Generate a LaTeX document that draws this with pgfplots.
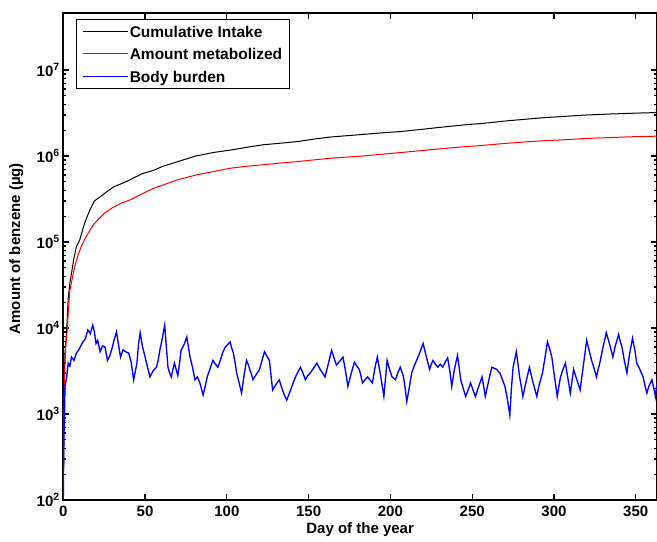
\documentclass[border=0pt]{standalone}
\usepackage{fontspec}
\setmainfont{Liberation Sans}
\usepackage{pgfplots}
\pgfplotsset{compat=1.18}

\begin{document}
\begin{tikzpicture}
\begin{semilogyaxis}[name=ax, scale only axis, width=593.7pt, height=487pt,
  xmin=0, xmax=363, ymin=100, ymax=4.6e7,
  xtick={0,50,100,150,200,250,300,350},
  xticklabels={0,50,100,150,200,250,300,350},
  ytick={1e2,1e3,1e4,1e5,1e6,1e7},
  yticklabels={10\textsuperscript{2},10\textsuperscript{3},10\textsuperscript{4},10\textsuperscript{5},10\textsuperscript{6},10\textsuperscript{7}},
  tick align=inside, major tick length=6pt, minor tick length=3pt,
  every tick/.style={black, line width=1.2pt},
  axis line style={line width=1.6pt},
  ticklabel style={font=\fontsize{15}{18}\selectfont\bfseries},
  xticklabel style={yshift=-2pt},
  label style={font=\fontsize{15}{18}\selectfont\bfseries},
  xlabel={Day of the year},
  ylabel={Amount of benzene (µg)},
  xlabel style={at={(axis description cs:0.5,-0.0616)}, anchor=center},
  ylabel style={at={(axis description cs:-0.079,0.516)}, anchor=center},
  legend style={at={(axis description cs:0.0219,0.9877)}, anchor=north west,
    draw=black, line width=1pt, fill=white, inner xsep=6pt, inner ysep=3pt,
    row sep=4.5pt,
    nodes={inner sep=1pt, text height=14pt, text depth=2pt,
      font=\fontsize{15.5}{18}\selectfont\bfseries}},
  legend cell align=left,
  legend image code/.code={\draw[#1, line width=1pt] (0pt,0pt) -- (45pt,0pt);},
]
\addplot[black, line width=1pt] coordinates {
(0,100)(0.4,1500)(1,5000)(2,9000)(3,2.2e4)(4,3.3e4)(5,4.3e4)(6.5,6.5e4)(8,8.8e4)
(10,1.05e5)(13,1.65e5)(16,2.3e5)(19,3.0e5)(23,3.4e5)(27,3.9e5)(31,4.4e5)(36,4.8e5)
(40,5.2e5)(48,6.2e5)(55,6.8e5)(61,7.6e5)(70,8.6e5)(81,1.0e6)(92,1.1e6)(102,1.17e6)
(112,1.26e6)(122,1.35e6)(133,1.41e6)(143,1.47e6)(153,1.57e6)(163,1.66e6)(173,1.72e6)
(183,1.78e6)(195,1.86e6)(207,1.93e6)(220,2.05e6)(232,2.17e6)(245,2.3e6)(257,2.4e6)
(270,2.55e6)(283,2.68e6)(295,2.8e6)(308,2.9e6)(320,3.0e6)(335,3.08e6)(350,3.15e6)(363,3.2e6)
};
\addlegendentry{Cumulative Intake}
\addplot[red, line width=1pt] coordinates {
(0,100)(0.3,800)(0.8,3000)(1.5,6000)(2.5,1e4)(3,1.5e4)(4,2.7e4)(5.5,3.8e4)(7,5.2e4)
(9,7e4)(11,8.9e4)(13,1.07e5)(15,1.25e5)(18,1.55e5)(21,1.8e5)(25,2.15e5)(30,2.5e5)
(35,2.8e5)(41,3.1e5)(49,3.7e5)(55,4.2e5)(61,4.6e5)(70,5.3e5)(81,6e5)(92,6.6e5)
(102,7.2e5)(112,7.6e5)(122,7.9e5)(133,8.3e5)(143,8.6e5)(153,9e5)(163,9.4e5)(173,9.7e5)
(183,1.0e6)(195,1.05e6)(207,1.1e6)(220,1.16e6)(232,1.22e6)(245,1.28e6)(257,1.33e6)
(270,1.40e6)(283,1.46e6)(295,1.51e6)(308,1.55e6)(320,1.6e6)(335,1.64e6)(350,1.68e6)(363,1.7e6)
};
\addlegendentry{Amount metabolized}
\addplot[blue, line width=1.35pt] coordinates {
(0,100)(0.2,300)(0.5,700)(0.8,1000)(1,2100)(2,2600)(3,3900)(4,3600)(5,4600)(6.5,4200)
(8,5100)(10,5800)(12,6900)(13.5,7500)(15,9500)(16.5,8600)(18,10800)(19,9000)(20,6600)
(21,7200)(22.5,5300)(24,6200)(25.5,6000)(27,4200)(28.5,4800)(30,6000)(31,7200)
(32.5,9000)(34,6000)(35,4600)(36.5,5600)(38,5300)(40,5100)(41.5,4000)(43,2500)
(44,3100)(45,3900)(46,6500)(47,8800)(48.5,6000)(50,4600)(51.5,3500)(53,2700)
(55,3200)(57,3500)(58,4200)(59,5500)(60.5,7500)(62,10800)(63,6000)(64,3500)
(65,3000)(66,2700)(67,3300)(68,3900)(69,3300)(70,2800)(71,3800)(72,5500)(74,6500)
(75.5,7900)(76.5,6000)(77.5,4600)(79,3500)(80.5,2500)(82,2700)(83.5,2300)(85.5,1660)
(86.5,2000)(88,2700)(90,3500)(91.5,4200)(93,3800)(94.5,3500)(96,4200)(97.5,5200)
(99,6000)(100.5,6400)(102,6900)(103,5800)(104,5100)(105,4000)(106,3000)(107.5,2300)
(109,1750)(110.5,2800)(112,4200)(113,3800)(114,3300)(115,2900)(116,2500)(118,2900)
(120,3300)(121.5,4200)(123,5300)(124.5,4700)(126,4200)(127,2800)(128,1900)(130,2200)
(132,2500)(134,1900)(135.5,1600)(136.6,1450)(138,1700)(139,1900)(140.5,2300)(142,2700)
(143.5,3100)(145,3500)(146.5,3000)(148,2500)(149.5,2800)(151,3000)(153,3400)(155,3900)
(156,3600)(157,3300)(158.5,3000)(160,2700)(162,3800)(164,5500)(165.5,4500)(167,3700)
(169,4100)(171,4600)(172.5,3200)(174,2100)(175,2500)(176.5,3200)(178,4000)(179.5,3600)
(181,3300)(183,2300)(184.5,2500)(186,2700)(187.5,2500)(189,2300)(190.5,3400)(192,4600)
(194,2800)(196,1600)(197,2600)(198,4200)(199.5,3300)(201,2700)(203,2500)(204.5,3000)
(206,3500)(207,3100)(208,2700)(209,2000)(210,1400)(211.5,2000)(213,3000)(214.5,3600)
(216,4200)(218,5200)(220,6600)(221,5500)(222,4600)(223,3900)(224,3300)(225,3800)
(226,4200)(227.5,3800)(229,3500)(230.5,3800)(232,3500)(233.5,4000)(235,4500)(236.5,3000)
(237.5,2100)(239,3200)(241,4800)(242,3500)(243,2500)(244.5,2000)(246,1600)(247.5,1900)
(249,2300)(250.5,1900)(252,1600)(254,2100)(256,2700)(257,2100)(258,1600)(260,2400)
(262,3500)(263.5,3400)(265,3300)(266,3100)(267,3000)(268.5,2500)(270,2100)(271.5,1500)
(273,970)(274,2000)(275,3500)(276,4300)(277,5300)(278,3800)(279,2700)(280,2100)
(281,1600)(283,2400)(285,3500)(287,2400)(289.5,1600)(291,2200)(293,3000)(294.5,4500)
(296,6900)(297.5,5600)(298.7,4600)(300,3000)(301,2200)(302,1600)(303,2100)(304,2700)
(305.5,3300)(307,3900)(308.5,2600)(310,1750)(311,2400)(312,3300)(314,2500)(316,1900)
(318,3700)(320,7200)(321.5,5500)(323,4200)(324.5,3400)(326,2700)(327,3300)(328,3900)
(330,6000)(332,8800)(334,6500)(336,4600)(337.5,6200)(339.5,8400)(340.5,7000)(341.6,6000)
(343,4200)(344.6,3000)(346,4700)(348,7600)(349.5,5500)(350.6,3900)(352.5,3300)
(354.5,2700)(356,2000)(356.8,1750)(358,2100)(359.9,2500)(361,2000)(362,1600)(363,2300)
};
\addlegendentry{Body burden}
\end{semilogyaxis}
\pgfresetboundingbox
\path ([xshift=-63.3pt,yshift=-41pt]ax.south west) rectangle ([yshift=13pt]ax.north east);
\end{tikzpicture}
\end{document}
